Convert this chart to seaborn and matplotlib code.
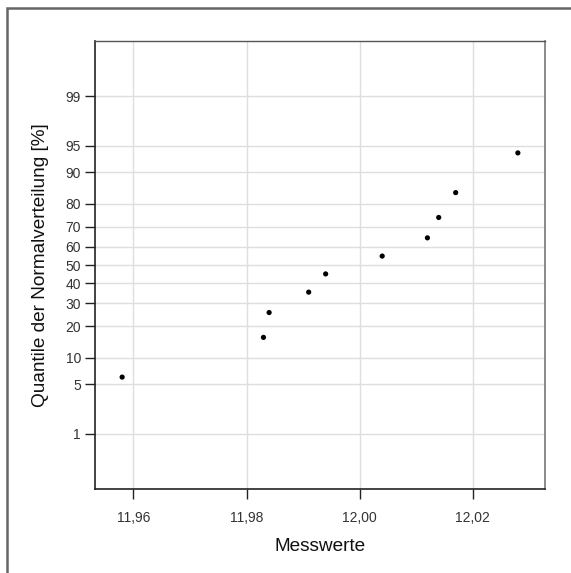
import numpy as np
import pandas as pd
import matplotlib
matplotlib.use("Agg")
import matplotlib.pyplot as plt
import matplotlib.ticker as mticker
from matplotlib.patches import Rectangle
import seaborn as sns
from statistics import NormalDist

# Data
messwerte = [11.958, 11.983, 11.984, 11.991, 11.994, 12.004, 12.012, 12.014, 12.017, 12.028]
quantile_pct = [6.1, 15.9, 25.6, 35.4, 45.1, 54.9, 64.6, 74.4, 84.1, 93.9]
y_ticks = [1, 5, 10, 20, 30, 40, 50, 60, 70, 80, 90, 95, 99]
x_ticks = [11.96, 11.98, 12.00, 12.02]

df = pd.DataFrame({"Messwerte": messwerte, "Quantil": quantile_pct})

_nd = NormalDist()


def _fwd(p):
    p = np.asarray(p, dtype=float)
    q = np.clip(p / 100.0, 1e-9, 1 - 1e-9)
    return np.vectorize(_nd.inv_cdf, otypes=[float])(q) if q.ndim else _nd.inv_cdf(float(q))


def _inv(z):
    z = np.asarray(z, dtype=float)
    return np.vectorize(_nd.cdf, otypes=[float])(z) * 100.0 if z.ndim else _nd.cdf(float(z)) * 100.0


sns.set_theme(style="white")
plt.rcParams["font.family"] = ["Liberation Sans", "DejaVu Sans"]

fig = plt.figure(figsize=(5.71, 5.73), dpi=100)
ax = fig.add_axes([95 / 571, 1 - 489 / 573, 450 / 571, 448 / 573])

# figure frame (open to right/bottom as in reference)
fig.patches.append(Rectangle((7 / 571, -0.1), 1.2, 1 - 8 / 573 + 0.1,
                             transform=fig.transFigure, fill=False,
                             edgecolor="#666666", linewidth=1.8, zorder=-1))

ax.set_yscale("function", functions=(_fwd, _inv))

sns.scatterplot(data=df, x="Messwerte", y="Quantil", ax=ax, color="black",
                s=14, edgecolor="none", zorder=3)

ax.set_xlim(11.9532, 12.0328)
ax.set_ylim(0.1, 99.9)
ax.set_xticks(x_ticks)
ax.set_yticks(y_ticks)
ax.yaxis.set_minor_locator(mticker.NullLocator())
ax.xaxis.set_major_formatter(mticker.FuncFormatter(lambda v, p: f"{v:.2f}".replace(".", ",")))
ax.yaxis.set_major_formatter(mticker.FuncFormatter(lambda v, p: f"{v:g}"))

ax.grid(True, color="#dedede", linewidth=1.0)
ax.set_axisbelow(True)

for side in ["left", "bottom"]:
    ax.spines[side].set_color("#222222")
    ax.spines[side].set_linewidth(1.2)
ax.spines["top"].set_color("#555555")
ax.spines["right"].set_color("#777777")
ax.spines["top"].set_linewidth(1.0)
ax.spines["right"].set_linewidth(1.2)

ax.tick_params(axis="both", which="major", direction="out", length=7, width=1,
               color="#222222", labelsize=10, labelcolor="#333333")
ax.tick_params(axis="x", pad=9, bottom=True, top=False)
ax.tick_params(axis="y", pad=3, left=True, right=False)

ax.set_xlabel("Messwerte", fontsize=13.7, color="#111111", labelpad=9)
ax.set_ylabel("Quantile der Normalverteilung [%]", fontsize=13.7, color="#111111", labelpad=12)

fig.savefig("out.png", dpi=100)
